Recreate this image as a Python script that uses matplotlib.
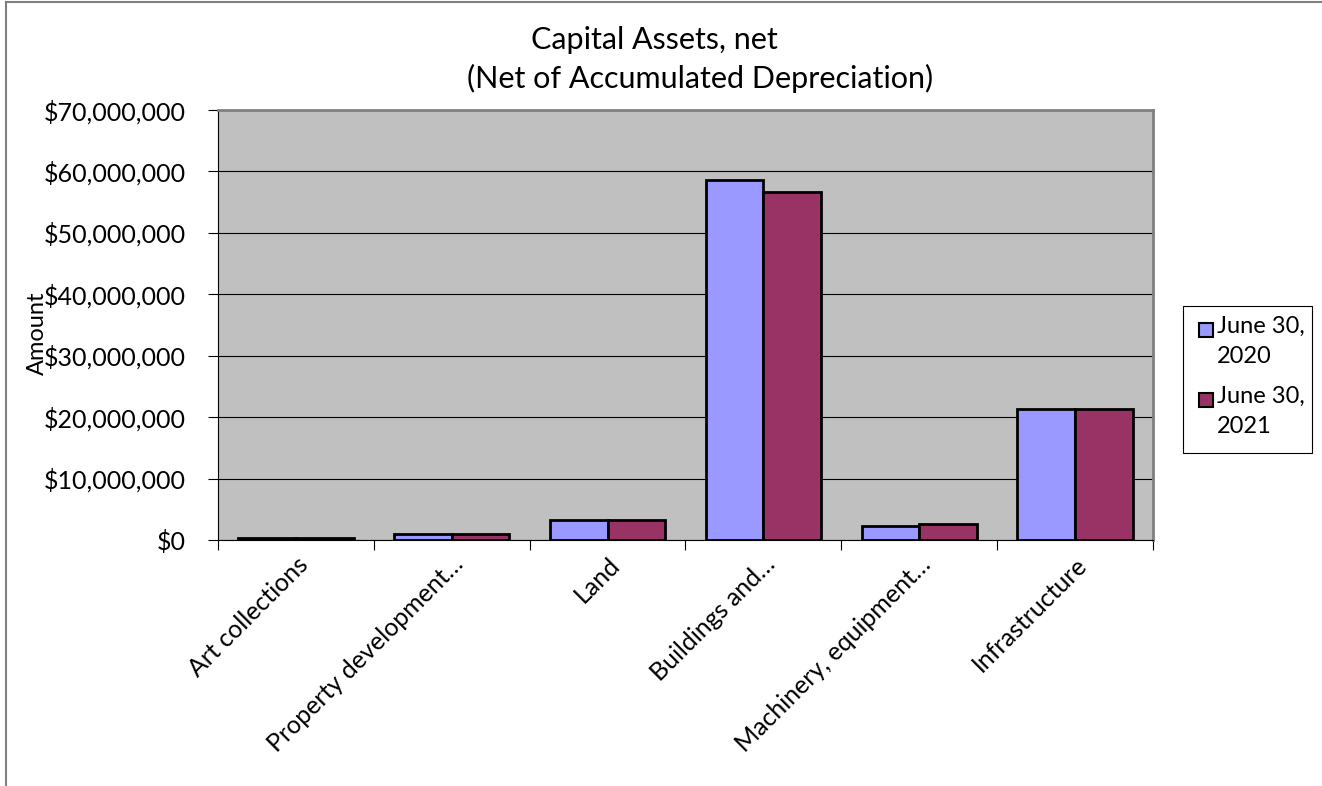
import matplotlib.pyplot as plt
import numpy as np
from matplotlib.ticker import FuncFormatter, MultipleLocator
from matplotlib.patches import Rectangle
from matplotlib.lines import Line2D

categories = ["Art collections", "Property development\u2026", "Land",
              "Buildings and\u2026", "Machinery, equipment\u2026", "Infrastructure"]
series_names = ["June 30,\n2020", "June 30,\n2021"]
values_2020 = [300000, 1000000, 3300000, 58600000, 2300000, 21400000]
values_2021 = [300000, 1000000, 3300000, 56700000, 2600000, 21400000]
colors = ["#9999FF", "#993366"]

plt.rcParams['font.family'] = ['Lato', 'DejaVu Sans']

W, H = 1322, 786
fig = plt.figure(figsize=(W / 100, H / 100), dpi=100)
ax = fig.add_axes([218 / W, 1 - 540 / H, (1153 - 218) / W, (540 - 110) / H])
ax.set_facecolor("#C0C0C0")

x = np.arange(len(categories))
w = 0.37
ax.bar(x - w / 2, values_2020, w, color=colors[0], edgecolor="black", linewidth=2, zorder=3)
ax.bar(x + w / 2, values_2021, w, color=colors[1], edgecolor="black", linewidth=2, zorder=3)

ax.set_xlim(-0.5, len(categories) - 0.5)
ax.set_ylim(0, 70000000)
ax.yaxis.set_major_locator(MultipleLocator(10000000))
ax.yaxis.set_major_formatter(FuncFormatter(lambda v, p: "${:,.0f}".format(v)))
ax.grid(axis="y", color="black", linewidth=0.8, zorder=1)

ax.set_xticks(np.arange(-0.5, len(categories), 1), minor=False)
ax.set_xticklabels([])
ax.set_xticks(x, minor=True)
ax.set_xticklabels(categories, minor=True, rotation=45, ha="right", rotation_mode="anchor", fontsize=18)
ax.tick_params(axis="x", which="minor", length=0, pad=9)
ax.tick_params(axis="x", which="major", length=7, direction="out", width=0.8)
ax.tick_params(axis="y", length=7, direction="out", width=0.8, labelsize=18, pad=16)

for s in ["top", "right"]:
    ax.spines[s].set_color("#808080")
    ax.spines[s].set_linewidth(2)
ax.spines["left"].set_color("black")
ax.spines["bottom"].set_color("black")

fig.text(37 / W, 1 - 333 / H, "Amount", rotation=90, ha="center", va="center", fontsize=17)
fig.text(654 / W, 1 - 40 / H, "Capital Assets, net", ha="center", va="center", fontsize=22)
fig.text(700 / W, 1 - 78 / H, "(Net of Accumulated Depreciation)", ha="center", va="center", fontsize=22)

# legend drawn by hand so the swatch sits on the first text line
fig.add_artist(Rectangle((1183 / W, 1 - 453 / H), (1312 - 1183) / W, (453 - 306) / H,
                         transform=fig.transFigure, facecolor="white", edgecolor="black", linewidth=0.8))
for i, (name, c) in enumerate(zip(series_names, colors)):
    y0 = 330 + i * 70
    fig.add_artist(Rectangle((1199 / W, 1 - (y0 + 7) / H), 14 / W, 14 / H, transform=fig.transFigure,
                             facecolor=c, edgecolor="black", linewidth=1.5))
    fig.text(1217 / W, 1 - (y0 - 14) / H, name, ha="left", va="top", fontsize=17, linespacing=1.55)

fig.add_artist(Line2D([6 / W, 6 / W], [0, 1 - 2 / H], color="#808080", linewidth=1.5))
fig.add_artist(Line2D([6 / W, 1], [1 - 2 / H, 1 - 2 / H], color="#808080", linewidth=1.5))

fig.savefig("out.png", dpi=100)
